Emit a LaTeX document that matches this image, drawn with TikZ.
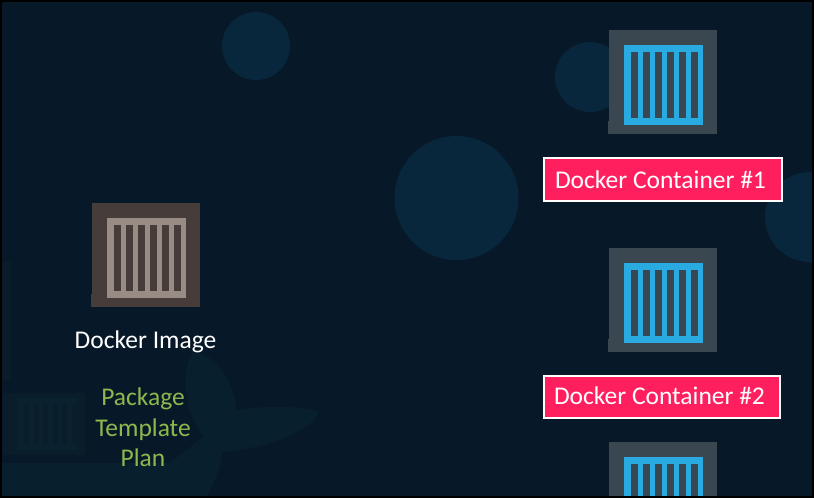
\documentclass[tikz,border=0pt]{standalone}
\usepackage{fontspec}
\setmainfont{Carlito}
\definecolor{bgc}{HTML}{071928}
\definecolor{blob}{HTML}{08263C}
\definecolor{whale}{HTML}{08202D}
\definecolor{ghost}{HTML}{091D2B}
\definecolor{ghostb}{HTML}{0A212F}
\definecolor{imgbox}{HTML}{463C39}
\definecolor{imgline}{HTML}{988C84}
\definecolor{conbox}{HTML}{3A4750}
\definecolor{conline}{HTML}{29ABE2}
\definecolor{pinkc}{HTML}{FF1F5F}
\definecolor{greenc}{HTML}{8CB84E}
\tikzset{
  x=1pt,y=-1pt,
  every node/.style={inner sep=0pt,outer sep=0pt,font=\fontsize{25.5}{25.5}\selectfont},
  circ/.style={fill=blob,draw=none},
  white label/.style={text=white,anchor=center},
  green label/.style={text=greenc,anchor=center},
  tag/.style={fill=pinkc,draw=white,line width=2pt,text=white,anchor=north west,inner xsep=6pt,inner ysep=0pt}
}
\newcommand{\crate}[4]{%
  \begin{scope}[shift={(#1,#2)}]
    \fill[#3] (0,0) rectangle (108,104);
    \fill[#3] (-1,91) rectangle (10,104);
    \fill[#4] (15,15) rectangle (94,95);
    \fill[#3] (22,22) rectangle +(7,66);
    \fill[#3] (34,22) rectangle +(7,66);
    \fill[#3] (46,22) rectangle +(7,66);
    \fill[#3] (58,22) rectangle +(7,66);
    \fill[#3] (70,22) rectangle +(7,66);
    \fill[#3] (82,22) rectangle +(7,66);
  \end{scope}}
\begin{document}
\begin{tikzpicture}
\useasboundingbox (0,0) rectangle (814,498);
\begin{scope}
\clip (0,0) rectangle (814,498);
\fill[bgc] (0,0) rectangle (814,498);
\fill[circ] (256,46) circle (34);
\fill[circ] (590,77) circle (35);
\fill[circ] (456.5,198) circle (62);
\fill[circ] (810,217) circle (45);
% faint whale and containers in the backdrop
\fill[whale] (0,463) -- (170,463) -- (203,437) -- (228,412) .. controls (260,405) and (300,405) .. (319,412) .. controls (312,430) and (270,448) .. (222,452) .. controls (220,470) and (212,488) .. (205,498) -- (0,498) -- cycle;
\fill[whale] (192,353) .. controls (215,352) and (235,385) .. (236,408) .. controls (237,425) and (225,432) .. (205,437) .. controls (190,425) and (178,380) .. (192,353) -- cycle;
\fill[ghost] (3,393) rectangle (85,455);
\fill[ghostb] (18,398) rectangle (77,450);
\foreach \i in {0,...,5} {\fill[ghost] (24+\i*9.5,403) rectangle +(5,42);}
\fill[ghost] (3,262) rectangle (11,380);
\crate{92}{203}{imgbox}{imgline}
\crate{609}{30}{conbox}{conline}
\crate{609}{248}{conbox}{conline}
\crate{609}{442}{conbox}{conline}
\end{scope}
\node[white label] (imglabel) at (145.5,342) {Docker Image};
\node[green label] (pkg) at (143,399) {Package};
\node[green label] (tmpl) at (143,429.5) {Template};
\node[green label] (plan) at (143,458) {Plan};
\node[tag] (c1) at (544,158) {\makebox[226pt][l]{\rule[-13pt]{0pt}{43pt}\hspace{5pt}Docker Container \#1}};
\node[tag] (c2) at (544,376) {\makebox[224pt][l]{\rule[-13.5pt]{0pt}{42pt}\hspace{4pt}Docker Container \#2}};
\draw[black,line width=2pt] (1,1) rectangle (813,497);
\end{tikzpicture}
\end{document}
